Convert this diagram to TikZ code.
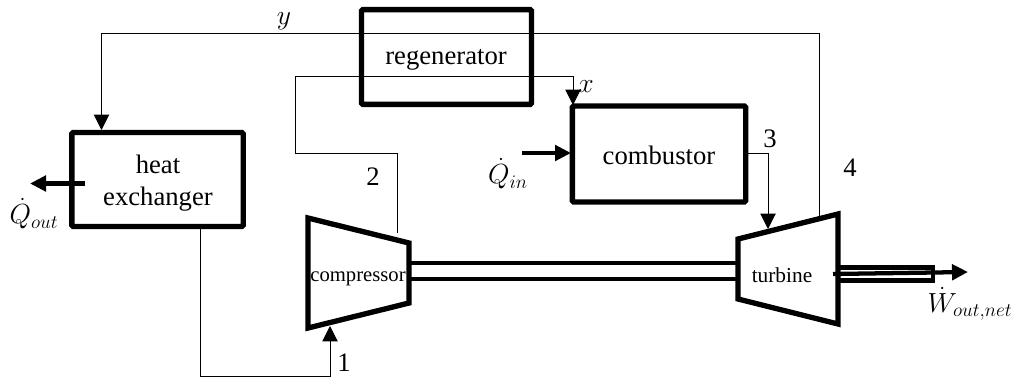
\documentclass[tikz,border=0pt]{standalone}
\usepackage{amsmath}
\usepackage{fontspec}
\setmainfont{Liberation Serif}
\usetikzlibrary{arrows.meta}
\tikzset{
    unitbox/.style={draw, line width=4pt, rounded corners=1pt, inner sep=0pt, outer sep=0pt},
    unittext/.style={align=center, inner sep=0pt, font=\fontsize{20}{23.5}\selectfont},
    machine/.style={draw, line width=4pt, line join=miter},
    pipe/.style={draw, black, line width=0.75pt},
    heat/.style={line width=3.2pt},
    tipthin/.style={-{Triangle[length=11.5pt,width=11.5pt]}},
    tipthick/.style={-{Triangle[length=12pt,width=11.5pt]}},
    mark label/.style={font=\fontsize{20}{22}\selectfont, inner sep=0pt},
}
\begin{document}
\begin{tikzpicture}[x=0.75pt, y=-0.75pt]
    \useasboundingbox (0,0) rectangle (1013,378);
    % Boxes
    \node[unitbox, minimum width=127.5pt, minimum height=71pt] (regen) at (446.5,57) {};
    \node[unittext] (regenlabel) at (446,60) {regenerator};
    \node[unitbox, minimum width=128.5pt, minimum height=70.5pt] (hx) at (157.5,179.5) {};
    \node[unittext] (hxlabel) at (158,183) {heat\\exchanger};
    \node[unitbox, minimum width=130pt, minimum height=72pt] (comb) at (659,154) {};
    \node[unittext] (comblabel) at (659,155) {combustor};
    % Compressor and turbine
    \draw[machine] (308,218) coordinate (cpTL) -- (409,243) coordinate (cpTR) -- (409,303) coordinate (cpBR)
        -- (308,328) coordinate (cpBL) -- cycle;
    \draw[machine] (738,239) coordinate (tbTL) -- (838,214) coordinate (tbTR) -- (838,324) coordinate (tbBR)
        -- (738,299) coordinate (tbBL) -- cycle;
    \node[font=\fontsize{15.5}{18}\selectfont, inner sep=0pt] (cplabel) at (358,279) {compressor};
    \node[font=\fontsize{16}{18}\selectfont, inner sep=0pt] (tblabel) at (782,275) {turbine};
    % Shaft
    \coordinate (shaftA) at (409,263);
    \coordinate (shaftB) at (738,263);
    \coordinate (shaftC) at (409,279);
    \coordinate (shaftD) at (738,279);
    \draw[line width=3.5pt] (shaftA) -- (shaftB);
    \draw[line width=3.5pt] (shaftC) -- (shaftD);
    % Output shaft
    \coordinate (outA) at (838,267.5);
    \coordinate (outB) at (933,280.5);
    \draw[line width=3.5pt] (outA) rectangle (outB);
    \coordinate (wstart) at (833,274);
    \coordinate (wend) at (968,272);
    \draw[heat, tipthick] (wstart) -- (wend);
    % Flow lines
    \coordinate (ytop) at (819,217);
    \coordinate (yhx) at (101.5,130);
    \draw[pipe, tipthin] (ytop) -- (819,33.5) -- (101.5,33.5) -- (yhx);
    \coordinate (xcomb) at (573,105);
    \coordinate (cpout) at (397,233);
    \draw[pipe, tipthin] (cpout) -- (397,153) -- (295,153) -- (295,77) -- (573,77) -- (xcomb);
    \coordinate (hxout) at (200,229);
    \coordinate (cpin) at (330,326);
    \draw[pipe, tipthin] (hxout) -- (200,376.5) -- (330,376.5) -- (cpin);
    \coordinate (combout) at (746,153);
    \coordinate (tbin) at (768,229);
    \draw[pipe, tipthin] (combout) -- (768,153) -- (tbin);
    % Heat arrows
    \coordinate (qinstart) at (522,153);
    \coordinate (qinend) at (571,153);
    \draw[heat, tipthick] (qinstart) -- (qinend);
    \coordinate (qoutstart) at (85,183.5);
    \coordinate (qoutend) at (30,183.5);
    \draw[heat, tipthick] (qoutstart) -- (qoutend);
    % Labels
    \node[mark label] (ylabel) at (284,21) {$y$};
    \node[mark label] (xlabel) at (586,87) {$x$};
    \node[mark label] (one) at (344,363) {1};
    \node[mark label] (two) at (373,177) {2};
    \node[mark label] (three) at (770,139) {3};
    \node[mark label] (four) at (850,168) {4};
    \node[mark label] (qin) at (508,174) {$\dot{Q}_{in}$};
    \node[mark label] (qout) at (34,214) {$\dot{Q}_{out}$};
    \node[mark label] (wout) at (970,304) {$\dot{W}_{out,net}$};
\end{tikzpicture}
\end{document}
